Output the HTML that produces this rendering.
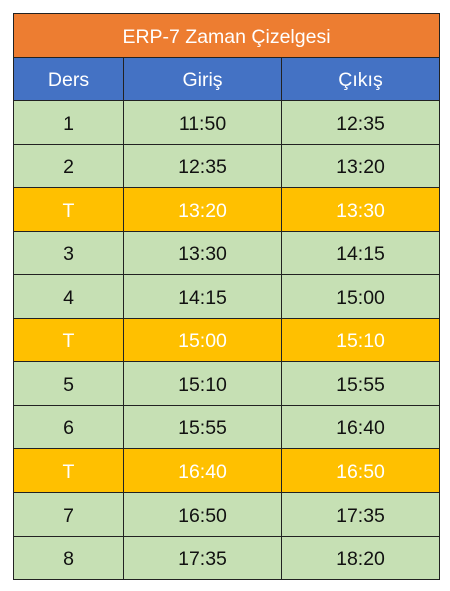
<!DOCTYPE html>
<html><head><meta charset="utf-8"><style>
body{margin:0;width:450px;height:591px;background:#fff;position:relative;overflow:hidden;font-family:"Liberation Sans",sans-serif}
.c{position:absolute;box-sizing:border-box;border:1px solid #222;display:flex;align-items:center;justify-content:center;font-size:19.5px;color:#111;padding-top:3px}
</style></head><body>
<div id="t"></div>
<script>
const rows=[["1","11:50","12:35"],["2","12:35","13:20"],["T","13:20","13:30"],["3","13:30","14:15"],["4","14:15","15:00"],["T","15:00","15:10"],["5","15:10","15:55"],["6","15:55","16:40"],["T","16:40","16:50"],["7","16:50","17:35"],["8","17:35","18:20"]];
const xs=[13,123,281,439];
const t=document.getElementById('t');
function cell(x,y,w,h,txt,bg,col,name){const d=document.createElement('div');d.className='c';d.style.cssText=`left:${x}px;top:${y}px;width:${w+1}px;height:${h+1}px;background:${bg};color:${col}`;d.textContent=txt;


t.appendChild(d);}
cell(13,13,426,44,"ERP-7 Zaman Çizelgesi","#ED7D31","#fff","title-cell");
const hd=["Ders","Giriş","Çıkış"];
for(let j=0;j<3;j++)cell(xs[j],57,xs[j+1]-xs[j],43,hd[j],"#4472C4","#fff","header-"+hd[j].toLowerCase());
rows.forEach((r,i)=>{const y=100+i*43.55;const br=r[0]==="T";
for(let j=0;j<3;j++)cell(xs[j],Math.round(y),xs[j+1]-xs[j],Math.round(y+43.55)-Math.round(y),r[j],br?"#FFC000":"#C6E0B4",br?"#fff":"#111","row-"+(i+1)+"-col-"+(j+1));});
</script>
</body></html>
